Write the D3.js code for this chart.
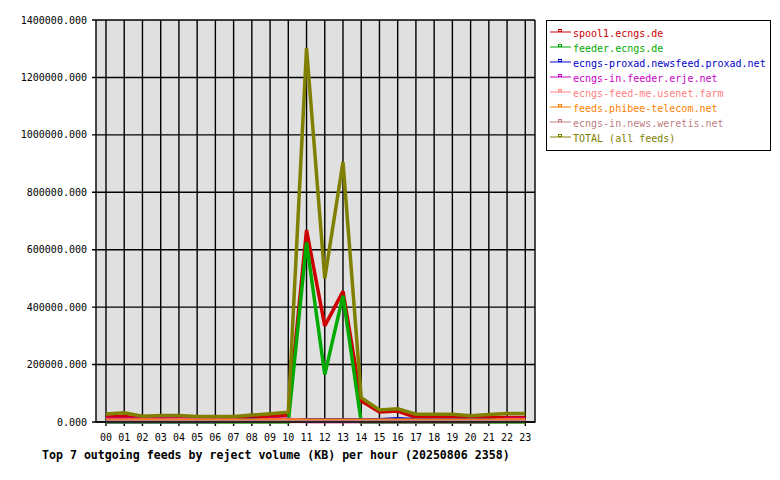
<!DOCTYPE html>
<html>
<head>
<meta charset="utf-8">
<script src="https://cdn.jsdelivr.net/npm/d3@7"></script>
<style>
  body { margin: 0; background: #ffffff; }
  text { font-family: "DejaVu Sans Mono", monospace; }
</style>
</head>
<body>
<div id="vis"></div>
<script>
// hourly reject volume (KB)

const HOURS = ["00","01","02","03","04","05","06","07","08","09","10","11",
               "12","13","14","15","16","17","18","19","20","21","22","23"];

const FEEDS = ["spool1.ecngs.de", "feeder.ecngs.de", "ecngs-proxad.newsfeed.proxad.net",
               "ecngs-in.feeder.erje.net", "ecngs-feed-me.usenet.farm",
               "feeds.phibee-telecom.net", "ecngs-in.news.weretis.net", "TOTAL (all feeds)"];

const SPOOL1 = [17000, 19000, 13000, 15000, 15000, 12000, 11000, 12000, 15000, 18000, 24000, 668000,
                335000, 455000, 73000, 35000, 38000, 16000, 16000, 16000, 16000, 16000, 16000, 16000];
const FEEDER = [0, 0, 0, 0, 0, 0, 0, 0, 0, 0, 0, 625000,
                165000, 440000, 0, 0, 0, 0, 0, 0, 0, 0, 0, 0];
const PROXAD = [2000, 2000, 2000, 2000, 2000, 2000, 2000, 6000, 9000, 4000, 4000, 8000,
                8000, 8000, 8000, 8000, 11000, 8000, 8000, 8000, 8000, 8000, 4000, 4000];
const ERJE = [10000, 10000, 10000, 10000, 10000, 10000, 10000, 6000, 3000, 10000, 10000, 2000,
              2000, 2000, 2000, 2000, 2000, 2000, 2000, 2000, 2000, 2000, 10000, 10000];
const USENETFARM = [5000, 5000, 5000, 5000, 7000, 5000, 5000, 5000, 5000, 5000, 5000, 5000,
                    5000, 5000, 5000, 5000, 5000, 5000, 5000, 5000, 5000, 5000, 5000, 5000];
const PHIBEE = [6000, 6000, 7000, 6000, 5000, 6000, 6000, 6000, 6000, 7000, 7000, 6000,
                6000, 6000, 6000, 6000, 6000, 6000, 6000, 6000, 6000, 6000, 7000, 7000];
const WERETIS = [2000, 2000, 2000, 2000, 2000, 2000, 2000, 2000, 2000, 2000, 2000, 2000,
                 2000, 2000, 2000, 2000, 2000, 2000, 2000, 2000, 2000, 2000, 2000, 2000];
const TOTAL = [28000, 32000, 20000, 23000, 23000, 19000, 19000, 19000, 24000, 29000, 34000, 1302000,
               500000, 905000, 85000, 42000, 46000, 27000, 27000, 27000, 22000, 26000, 30000, 30000];

const Y_TICKS = [0, 200000, 400000, 600000, 800000, 1000000, 1200000, 1400000];

const COLORS = ["#cc0000", "#00aa00", "#0000cc", "#cc00cc", "#ff8080", "#ff8000", "#c08080", "#808000"];

const SERIES = [SPOOL1, FEEDER, PROXAD, ERJE, USENETFARM, PHIBEE, WERETIS, TOTAL];

const FRAME_WIDTH = 780;
const FRAME_HEIGHT = 480;
const PLOT = {left: 96, right: 535, top: 20, bottom: 422};

const FRAME = d3.select("#vis")
                .append("svg")
                    .attr("width", FRAME_WIDTH)
                    .attr("height", FRAME_HEIGHT);

// scales
const X_SCALE = d3.scaleLinear()
                    .domain([0, HOURS.length - 1])
                    .range([106, 525.3]);

const Y_SCALE = d3.scaleLinear()
                    .domain([0, 1400000])
                    .range([PLOT.bottom, PLOT.top]);

// plot background
FRAME.append("rect")
    .attr("x", PLOT.left)
    .attr("y", PLOT.top)
    .attr("width", PLOT.right - PLOT.left)
    .attr("height", PLOT.bottom - PLOT.top)
    .attr("fill", "#e0e0e0");

// grid lines
FRAME.selectAll(".vgrid")
    .data(HOURS)
    .enter()
    .append("line")
        .attr("x1", (d, i) => X_SCALE(i))
        .attr("x2", (d, i) => X_SCALE(i))
        .attr("y1", PLOT.top)
        .attr("y2", PLOT.bottom + 4)
        .attr("stroke", "#000")
        .attr("stroke-width", 1.4);

FRAME.selectAll(".hgrid")
    .data(Y_TICKS)
    .enter()
    .append("line")
        .attr("x1", PLOT.left - 4)
        .attr("x2", PLOT.right)
        .attr("y1", (d) => Y_SCALE(d))
        .attr("y2", (d) => Y_SCALE(d))
        .attr("stroke", "#000")
        .attr("stroke-width", 1.4);

// series lines (total drawn last)
const LINE = d3.line()
                .x((d, i) => X_SCALE(i))
                .y((d) => Y_SCALE(d));

FRAME.selectAll(".series")
    .data(SERIES)
    .enter()
    .append("path")
        .attr("d", (d) => LINE(d))
        .attr("fill", "none")
        .attr("stroke", (d, i) => COLORS[i])
        .attr("stroke-width", 3.5)
        .attr("stroke-linejoin", "miter")
        .attr("stroke-miterlimit", 3);

// frame: left, right, bottom
FRAME.append("path")
    .attr("d", "M" + PLOT.left + "," + PLOT.top + "V" + PLOT.bottom + "H" + PLOT.right + "V" + PLOT.top)
    .attr("fill", "none")
    .attr("stroke", "#000")
    .attr("stroke-width", 1.4);

// y labels
FRAME.selectAll(".ylab")
    .data(Y_TICKS)
    .enter()
    .append("text")
        .attr("x", 87)
        .attr("y", (d) => Y_SCALE(d))
        .attr("dy", "0.35em")
        .attr("text-anchor", "end")
        .attr("font-size", "10px")
        .attr("fill", "#000")
        .text((d) => d3.format(".3f")(d));

// x labels
FRAME.selectAll(".xlab")
    .data(HOURS)
    .enter()
    .append("text")
        .attr("x", (d, i) => X_SCALE(i))
        .attr("y", 437)
        .attr("dy", "0.35em")
        .attr("text-anchor", "middle")
        .attr("font-size", "10px")
        .attr("fill", "#000")
        .text((d) => d);

// title
FRAME.append("text")
    .attr("x", 42)
    .attr("y", 455)
    .attr("dy", "0.35em")
    .attr("font-size", "11.6px")
    .attr("font-weight", "bold")
    .attr("fill", "#000")
    .text("Top 7 outgoing feeds by reject volume (KB) per hour (20250806 2358)");

// legend
FRAME.append("rect")
    .attr("x", 546.5)
    .attr("y", 20.5)
    .attr("width", 224)
    .attr("height", 130)
    .attr("fill", "#fff")
    .attr("stroke", "#000")
    .attr("stroke-width", 1);

const LEGEND = FRAME.selectAll(".legend")
                    .data(FEEDS)
                    .enter()
                    .append("g")
                        .attr("transform", (d, i) => "translate(0," + (33 + 15 * i) + ")");

LEGEND.append("line")
    .attr("x1", 550)
    .attr("x2", 571)
    .attr("y1", -1)
    .attr("y2", -1)
    .attr("stroke", (d, i) => COLORS[i])
    .attr("stroke-width", 1);

LEGEND.append("rect")
    .attr("x", 558.5)
    .attr("y", -3.5)
    .attr("width", 3)
    .attr("height", 2)
    .attr("fill", "none")
    .attr("stroke", (d, i) => COLORS[i])
    .attr("stroke-width", 1);

LEGEND.append("text")
    .attr("x", 573)
    .attr("y", 0)
    .attr("dy", "0.35em")
    .attr("font-size", "10px")
    .attr("fill", (d, i) => COLORS[i])
    .text((d) => d);
</script>
</body>
</html>
